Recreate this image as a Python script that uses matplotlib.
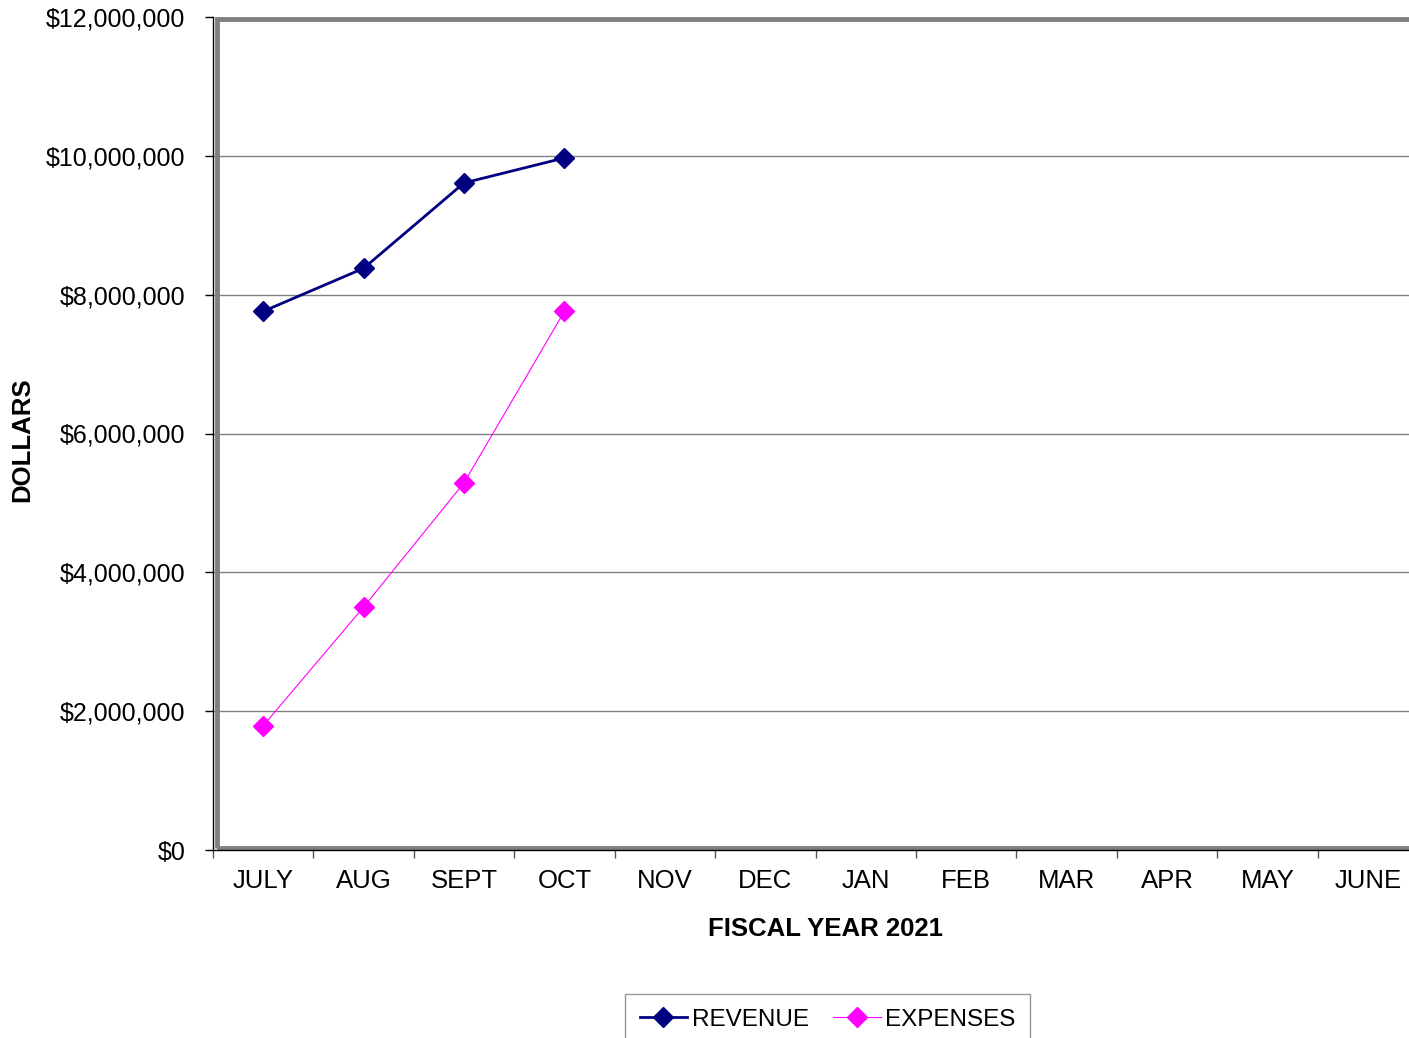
import matplotlib
matplotlib.use("Agg")
import matplotlib.pyplot as plt
from matplotlib.patches import Rectangle
from matplotlib.ticker import FuncFormatter, FixedLocator
import numpy as np

plt.rcParams['font.family'] = ['Liberation Sans', 'DejaVu Sans']

months = ["JULY", "AUG", "SEPT", "OCT", "NOV", "DEC", "JAN", "FEB", "MAR", "APR", "MAY", "JUNE"]
revenue = [7.76e6, 8.38e6, 9.61e6, 9.97e6]
expenses = [1.79e6, 3.50e6, 5.29e6, 7.76e6]

fig = plt.figure(figsize=(14.09, 10.38), dpi=100)
# plot area runs off the right edge like the original
ax = fig.add_axes([213/1409, 188/1038, 1205/1409, 833/1038])

x = np.arange(len(months))
ax.plot(x[:len(revenue)], revenue, color='#000080', lw=2, marker='D', markersize=10.5,
        label='REVENUE', clip_on=False, zorder=5)
ax.plot(x[:len(expenses)], expenses, color='#FF00FF', lw=0.8, marker='D', markersize=10.5,
        label='EXPENSES', clip_on=False, zorder=5)

ax.set_xlim(-0.5, 11.5)
ax.set_ylim(0, 12e6)

# y axis
ax.set_yticks(np.arange(0, 12e6 + 1, 2e6))
ax.yaxis.set_major_formatter(FuncFormatter(lambda v, p: "${:,.0f}".format(v)))
ax.tick_params(axis='y', direction='out', length=6, width=1, color='black',
               labelsize=18, pad=14)
for yv in np.arange(2e6, 12e6, 2e6):
    ax.axhline(yv, color='#808080', lw=1, zorder=1)

# x axis: ticks between categories, labels at centres
ax.xaxis.set_major_locator(FixedLocator(np.arange(-0.5, 12, 1)))
ax.xaxis.set_minor_locator(FixedLocator(x))
ax.set_xticklabels([])
ax.set_xticklabels(months, minor=True)
ax.tick_params(axis='x', which='major', direction='out', length=6, width=1, color='#555555')
ax.tick_params(axis='x', which='minor', length=0, labelsize=18.5, pad=14)

for s in ['top', 'right']:
    ax.spines[s].set_visible(False)
for s in ['left', 'bottom']:
    ax.spines[s].set_color('black')
    ax.spines[s].set_linewidth(1)
ax.add_patch(Rectangle((0.003, 0.003), 1.2, 0.994, transform=ax.transAxes, fill=False,
                       edgecolor='#808080', lw=3.5, clip_on=False, zorder=2))

fig.text(22/1409, 1 - 440/1038, "DOLLARS", rotation=90, fontsize=18.5, fontweight='bold',
         ha='center', va='center')
fig.text(825/1409, 1 - 929/1038, "FISCAL YEAR 2021", fontsize=18.5, fontweight='bold',
         ha='center', va='center')

leg = fig.legend(loc='upper left', bbox_to_anchor=(625/1409, 1 - 994/1038), ncol=2,
                 fontsize=17.5, frameon=True, fancybox=False, edgecolor='#808080',
                 handlelength=1.95, handletextpad=0.2, columnspacing=1.0,
                 borderpad=0.6, borderaxespad=0)
leg.get_frame().set_linewidth(1)

fig.savefig("out.png", dpi=100)
